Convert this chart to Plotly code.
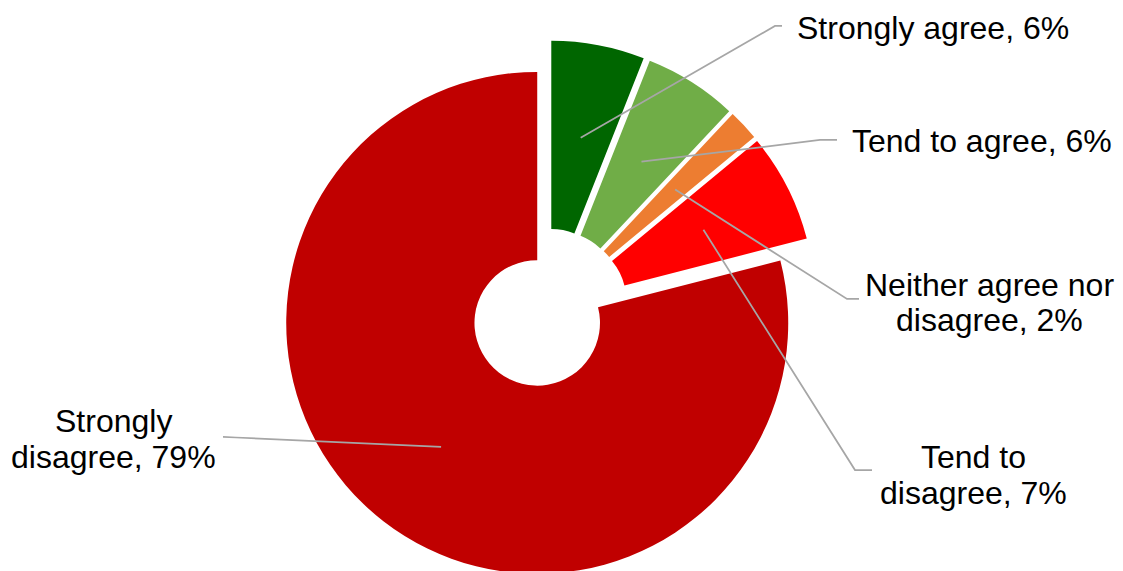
import math
import plotly.graph_objects as go

# data
categories = ["Strongly agree", "Tend to agree", "Neither agree nor disagree",
              "Tend to disagree", "Strongly disagree"]
values = [6, 6, 2, 7, 79]
colors = ["#006600", "#70AD47", "#ED7D31", "#FF0000", "#C00000"]
# where each outside label wraps ("|" = line break)
label_wrap = ["Strongly agree", "Tend to agree", "Neither agree nor|disagree",
              "Tend to|disagree", "Strongly|disagree"]

# layout, in window pixels; the page body adds an 8px margin around the figure
SHIFT = 8
W, H = 1123 - 2 * SHIFT, 571
CX, CY = 548, 309
PULL = 0.07
HOLE = 0.25
R = 251
BOX = R * (1 + PULL)

# leader line elbow / end, text x, text anchor, line centres y
label_pos = [
    dict(elbow=(775, 26), end=(782, 26), x=795, anchor="left", ys=[28]),
    dict(elbow=(820, 140), end=(837, 140), x=850, anchor="left", ys=[141]),
    dict(elbow=(847, 299), end=(859, 299), x=989, anchor="center", ys=[285, 320]),
    dict(elbow=(855, 470), end=(872, 470), x=973, anchor="center", ys=[457, 493]),
    dict(elbow=(236, 437.5), end=(223, 437), x=113, anchor="center", ys=[421, 457]),
]


def px(x, y):
    return (x - SHIFT) / W, 1 - (y - SHIFT) / H


cx, cy = CX - SHIFT, CY - SHIFT
fig = go.Figure(
    go.Pie(
        labels=categories,
        values=values,
        sort=False,
        direction="clockwise",
        rotation=0,
        hole=HOLE,
        pull=[PULL] * len(values),
        marker=dict(colors=colors, line=dict(width=0)),
        textinfo="none",
        hoverinfo="label+percent",
        domain=dict(
            x=[(cx - BOX) / W, (cx + BOX) / W],
            y=[(H - cy - BOX) / H, (H - cy + BOX) / H],
        ),
    )
)

total = sum(values)
cum = 0
ring_mid = (R + R * HOLE) / 2 + R * PULL
for v, cat, wrap, pos in zip(values, categories, label_wrap, label_pos):
    theta = math.radians((cum + v / 2) / total * 360)
    cum += v
    ax = CX + ring_mid * math.sin(theta)
    ay = CY - ring_mid * math.cos(theta)
    pts = [px(ax, ay), px(*pos["elbow"]), px(*pos["end"])]
    path = "M " + " L ".join(f"{x:.5f},{y:.5f}" for x, y in pts)
    fig.add_shape(type="path", path=path, xref="paper", yref="paper",
                  line=dict(color="#A6A6A6", width=1.75))

    lines = f"{wrap}, {v}%".split("|")
    for line, ly in zip(lines, pos["ys"]):
        x, y = px(pos["x"], ly)
        fig.add_annotation(
            x=x, y=y, xref="paper", yref="paper", text=line, showarrow=False,
            xanchor=pos["anchor"], yanchor="middle",
            font=dict(family="Liberation Sans, Arial", size=32, color="#000000"),
        )

fig.update_layout(
    width=W,
    height=H,
    margin=dict(l=0, r=0, t=0, b=0),
    paper_bgcolor="white",
    plot_bgcolor="white",
    showlegend=False,
)

fig.write_html("out.html")
